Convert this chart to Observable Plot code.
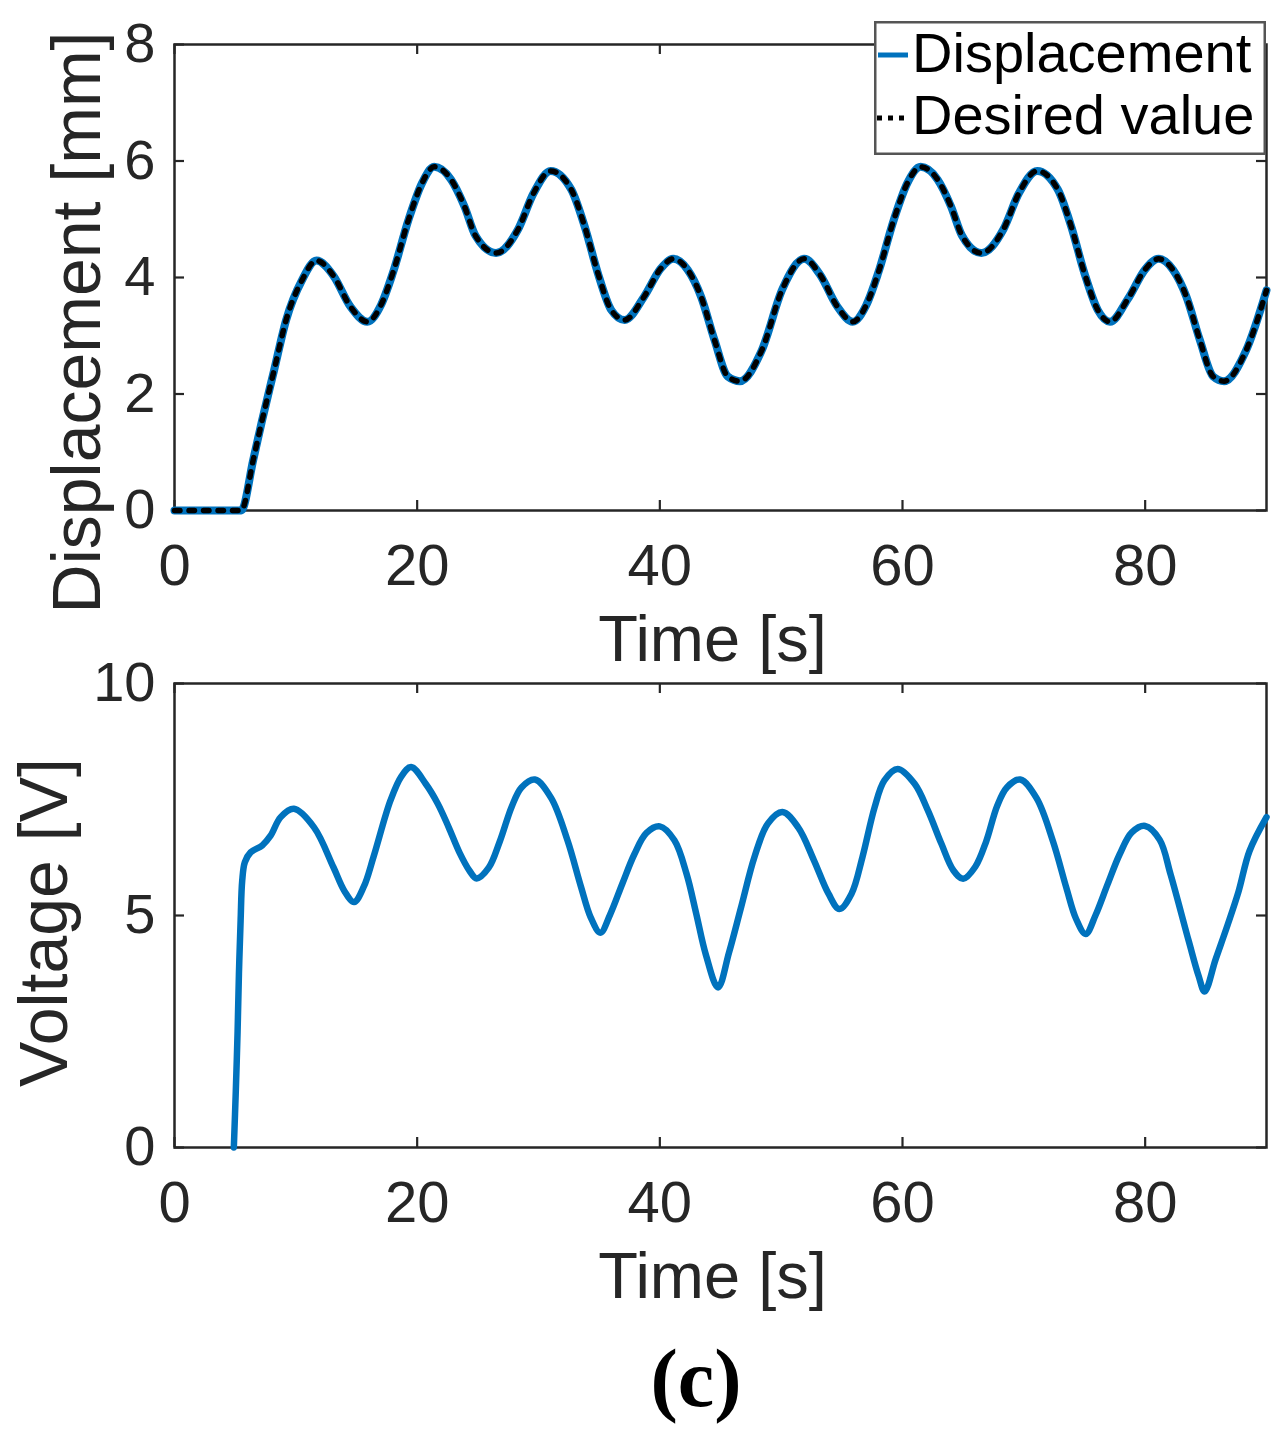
<!DOCTYPE html>
<html>
<head>
<meta charset="utf-8">
<script src="https://cdn.jsdelivr.net/npm/d3@7"></script>
<script src="https://cdn.jsdelivr.net/npm/@observablehq/plot@0.6"></script>
<style>
html, body { margin: 0; padding: 0; background: #fff; }
#wrap { position: relative; width: 1283px; height: 1447px; overflow: hidden; background: #fff; }
#wrap > svg { position: absolute; left: 0; }
</style>
</head>
<body>
<div id="wrap"></div>
<script>
// ---- data ----
const timeDesired = [0, 4.5, 5.5, 6.5, 7.2, 8.2, 9.2, 10.5, 11.7, 13.1, 14.5, 15.9, 17.0, 18.0, 19.3, 20.4, 21.4, 22.8, 23.9, 24.8, 26.5, 28.3, 29.6, 31.0, 32.7, 33.8, 34.9, 36.0, 37.1, 38.7, 40.1, 41.1, 42.3, 43.4, 44.5, 45.6, 46.6, 48.4, 50.1, 51.9, 53.2, 54.6, 55.9, 57.0, 58.0, 59.3, 60.4, 61.5, 62.9, 64.0, 64.9, 66.5, 68.3, 69.6, 71.1, 72.8, 73.9, 75.0, 76.1, 77.1, 78.6, 80.0, 81.1, 82.3, 83.4, 84.5, 85.6, 86.5, 88.3, 90];
const desiredValue = [0, 0, 0, 0.88, 1.53, 2.40, 3.27, 3.95, 4.29, 4.03, 3.50, 3.24, 3.52, 4.08, 5.00, 5.62, 5.90, 5.68, 5.22, 4.72, 4.42, 4.82, 5.45, 5.83, 5.51, 4.88, 4.07, 3.44, 3.27, 3.67, 4.16, 4.32, 4.13, 3.67, 2.93, 2.30, 2.22, 2.75, 3.80, 4.32, 4.05, 3.51, 3.24, 3.52, 4.08, 5.00, 5.62, 5.90, 5.68, 5.22, 4.72, 4.42, 4.82, 5.45, 5.83, 5.51, 4.88, 4.07, 3.44, 3.24, 3.64, 4.14, 4.32, 4.13, 3.67, 2.93, 2.30, 2.22, 2.74, 3.78];
const timeDisplacement = timeDesired;
const displacementValue = [0, 0, 0, 0.88, 1.53, 2.40, 3.27, 3.95, 4.29, 4.03, 3.50, 3.24, 3.52, 4.08, 5.00, 5.62, 5.90, 5.68, 5.22, 4.72, 4.42, 4.82, 5.45, 5.83, 5.51, 4.88, 4.07, 3.44, 3.27, 3.67, 4.16, 4.32, 4.13, 3.67, 2.93, 2.30, 2.22, 2.75, 3.80, 4.32, 4.05, 3.51, 3.24, 3.52, 4.08, 5.00, 5.62, 5.90, 5.68, 5.22, 4.72, 4.42, 4.82, 5.45, 5.83, 5.51, 4.88, 4.07, 3.44, 3.24, 3.64, 4.14, 4.32, 4.13, 3.67, 2.93, 2.30, 2.22, 2.74, 3.78];

const timeVoltage = [4.89, 5.05, 5.2, 5.31, 5.45, 5.58, 5.8, 6.27, 7.23, 7.92, 8.75, 9.84, 11.5, 13.1, 14.0, 14.8, 15.6, 16.4, 17.8, 18.7, 19.5, 20.7, 21.7, 22.6, 23.5, 24.3, 24.9, 25.9, 26.8, 27.8, 28.6, 29.7, 31.05, 32.4, 33.5, 34.3, 35.1, 35.9, 36.9, 37.9, 38.9, 40.0, 41.2, 42.2, 43.0, 43.8, 44.8, 45.7, 46.7, 47.8, 48.9, 50.1, 51.4, 52.7, 53.9, 54.8, 55.8, 56.7, 57.7, 58.5, 59.6, 61.0, 62.1, 63.2, 64.2, 65.0, 66.0, 66.9, 67.8, 68.6, 69.7, 71.05, 72.4, 73.5, 74.3, 75.1, 75.9, 76.9, 77.9, 78.9, 80.0, 81.2, 82.1, 83.6, 84.4, 84.9, 85.8, 86.8, 87.7, 88.6, 90];
const voltageValue = [0, 1.2, 2.5, 3.74, 4.9, 5.75, 6.15, 6.36, 6.51, 6.72, 7.12, 7.30, 6.90, 6.04, 5.53, 5.29, 5.62, 6.26, 7.48, 8.0, 8.20, 7.84, 7.41, 6.9, 6.35, 5.97, 5.80, 6.03, 6.59, 7.35, 7.76, 7.93, 7.53, 6.61, 5.62, 4.96, 4.63, 5.02, 5.68, 6.32, 6.78, 6.92, 6.62, 5.90, 5.04, 4.15, 3.45, 4.20, 5.18, 6.26, 6.98, 7.23, 6.90, 6.19, 5.47, 5.14, 5.47, 6.26, 7.33, 7.91, 8.16, 7.84, 7.26, 6.55, 5.97, 5.79, 6.05, 6.60, 7.36, 7.76, 7.93, 7.53, 6.60, 5.60, 4.93, 4.60, 5.0, 5.67, 6.32, 6.79, 6.93, 6.63, 5.88, 4.44, 3.7, 3.36, 4.05, 4.8, 5.52, 6.39, 7.12];

const xTicks = [0, 20, 40, 60, 80];
const displacementTicks = [0, 2, 4, 6, 8];
const voltageTicks = [0, 5, 10];
const legendLabels = ["Displacement", "Desired value"];
const xLabel = "Time [s]";
const displacementLabel = "Displacement [mm]";
const voltageLabel = "Voltage [V]";
const caption = "(c)";

// ---- styles ----
const blue = "#0072BD";
const axisColor = "#262626";
const sans = "'Liberation Sans', Arial, sans-serif";
const W = 1283, ML = 174, MR = 17;

const toRows = (ts, vs) => ts.map((t, i) => ({t, v: vs[i]}));

function panel({height, marginTop, marginBottom, yDomain, yTicks, yLabel, yLabelDx, yLabelDy, series}) {
  const innerH = height - marginTop - marginBottom;
  const innerW = W - ML - MR;
  const tk = {stroke: axisColor, strokeWidth: 2.2};
  return Plot.plot({
    width: W, height, marginLeft: ML, marginRight: MR, marginTop, marginBottom,
    x: {domain: [0, 90]},
    y: {domain: yDomain},
    style: {background: "transparent", overflow: "visible", fontFamily: sans, color: axisColor},
    marks: [
      Plot.frame({stroke: axisColor, strokeWidth: 2.5}),
      Plot.tickX(xTicks, {x: d => d, insetTop: innerH - 10, ...tk}),
      Plot.tickX(xTicks, {x: d => d, insetBottom: innerH - 10, ...tk}),
      Plot.tickY(yTicks, {y: d => d, insetRight: innerW - 10, ...tk}),
      Plot.tickY(yTicks, {y: d => d, insetLeft: innerW - 10, ...tk}),
      Plot.axisX(xTicks, {tickSize: 0, tickPadding: 33, fontSize: 58, label: null, fill: axisColor, tickFormat: d => String(d)}),
      Plot.axisY(yTicks, {tickSize: 0, tickPadding: 19, fontSize: 56, label: null, fill: axisColor, tickFormat: d => String(d)}),
      Plot.text([xLabel], {text: d => d, frameAnchor: "bottom", textAnchor: "middle", dx: -8, dy: 150, lineAnchor: "bottom", fontSize: 65, fill: axisColor}),
      Plot.text([yLabel], {text: d => d, frameAnchor: "left", textAnchor: "middle", rotate: -90, dx: yLabelDx, dy: yLabelDy, lineAnchor: "bottom", fontSize: 68, fill: axisColor}),
      ...series
    ]
  });
}

const wrap = document.getElementById("wrap");

const upperPanel = panel({
  height: 560, marginTop: 44, marginBottom: 50,
  yDomain: [0, 8], yTicks: displacementTicks,
  yLabel: displacementLabel, yLabelDx: -75, yLabelDy: 45,
  series: [
    Plot.line(toRows(timeDisplacement, displacementValue), {x: "t", y: "v", stroke: blue, strokeWidth: 8, curve: "monotone-x", strokeLinejoin: "round"}),
    Plot.line(toRows(timeDesired, desiredValue), {x: "t", y: "v", stroke: "#000", strokeWidth: 5.5, strokeDasharray: "5.5 9", curve: "monotone-x"})
  ]
});
upperPanel.style.top = "0px";
wrap.appendChild(upperPanel);

const lowerPanel = panel({
  height: 560, marginTop: 43, marginBottom: 53,
  yDomain: [0, 10], yTicks: voltageTicks,
  yLabel: voltageLabel, yLabelDx: -108, yLabelDy: 7,
  series: [
    Plot.line(toRows(timeVoltage, voltageValue), {x: "t", y: "v", stroke: blue, strokeWidth: 6.5, curve: "catmull-rom", strokeLinejoin: "round"})
  ]
});
lowerPanel.style.top = "640px";
wrap.appendChild(lowerPanel);

// ---- legend (top right of the upper panel) ----
const legend = d3.create("svg")
  .attr("width", 392).attr("height", 134)
  .style("left", "874px").style("top", "21px")
  .style("font-family", sans);
legend.append("rect").attr("x", 1.25).attr("y", 1.25).attr("width", 389.5).attr("height", 131.5)
  .attr("fill", "#fff").attr("stroke", "#555").attr("stroke-width", 2.5);
legend.append("line").attr("x1", 4).attr("x2", 34).attr("y1", 34).attr("y2", 34)
  .attr("stroke", blue).attr("stroke-width", 5);
legend.append("line").attr("x1", 3).attr("x2", 33).attr("y1", 97).attr("y2", 97)
  .attr("stroke", "#000").attr("stroke-width", 5).attr("stroke-dasharray", "5 6");
legend.selectAll("text.lab").data(legendLabels).join("text")
  .attr("class", "lab")
  .attr("x", 38).attr("y", (d, i) => 51 + i * 62)
  .attr("font-size", 56).attr("fill", "#000")
  .text(d => d);
legend.node().style.position = "absolute";
wrap.appendChild(legend.node());

// ---- caption ----
const cap = d3.create("svg").attr("width", W).attr("height", 147)
  .style("top", "1300px");
cap.append("text").attr("x", 696).attr("y", 106).attr("text-anchor", "middle")
  .attr("font-family", "'Liberation Serif', 'Times New Roman', serif").attr("font-weight", "bold")
  .attr("font-size", 82).attr("fill", "#000").text(caption);
cap.node().style.position = "absolute";
wrap.appendChild(cap.node());
</script>
</body>
</html>
